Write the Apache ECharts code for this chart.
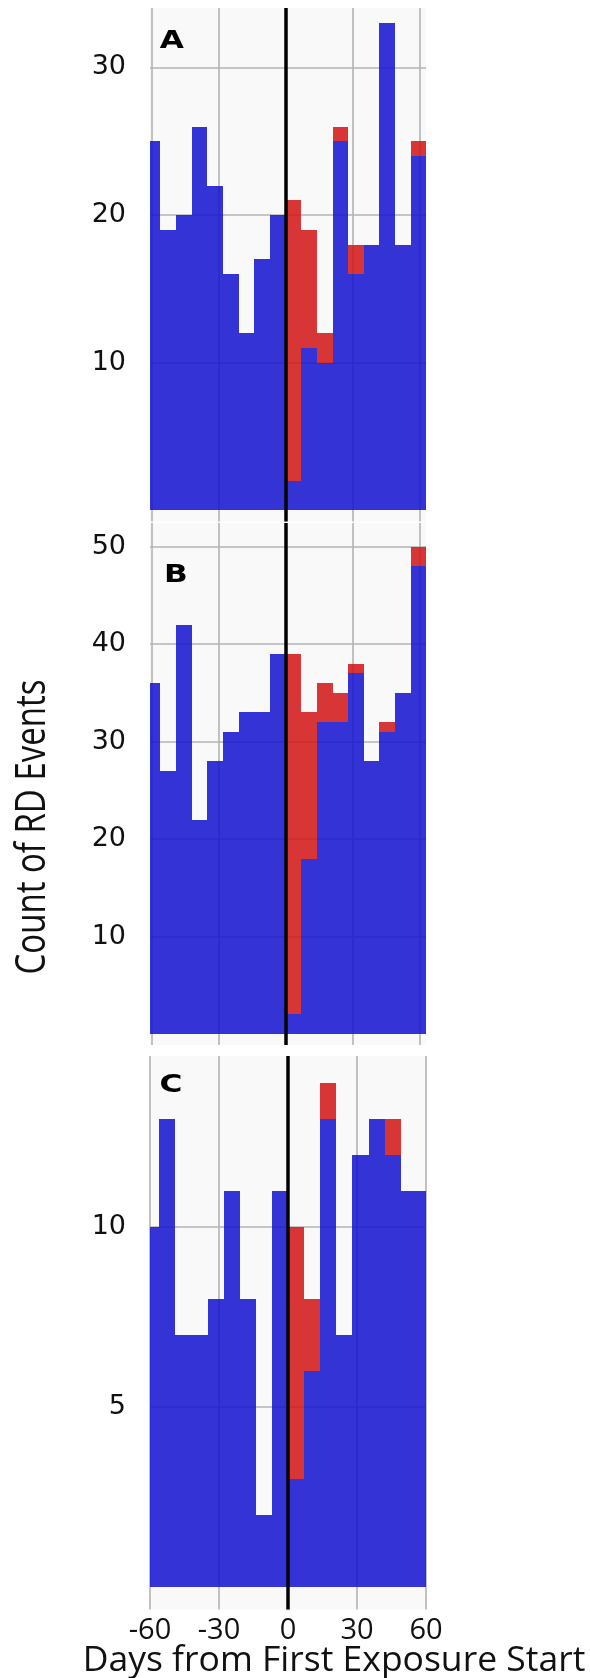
<!DOCTYPE html>
<html><head><meta charset="utf-8">
<script src="https://cdn.jsdelivr.net/npm/echarts@6/dist/echarts.min.js"></script>
<style>html,body{margin:0;padding:0;background:#fff}#c{width:590px;height:1678px}</style>
</head><body><div id="c"></div>
<script>
// ---- data ----
const binStarts = [-63, -56, -49, -42, -35, -28, -21, -14, -7, 0, 7, 14, 21, 28, 35, 42, 49, 56];
const binWidth = 7;
const blueA = [25, 19, 20, 26, 22, 16, 12, 17, 20, 2, 11, 10, 25, 16, 18, 33, 18, 24];
const redA  = [0, 0, 0, 0, 0, 0, 0, 0, 0, 19, 8, 2, 1, 2, 0, 0, 0, 1];
const blueB = [36, 27, 42, 22, 28, 31, 33, 33, 39, 2, 18, 32, 32, 37, 28, 31, 35, 48];
const redB  = [0, 0, 0, 0, 0, 0, 0, 0, 0, 37, 15, 4, 3, 1, 0, 1, 0, 2];
const blueC = [10, 13, 7, 7, 8, 11, 8, 2, 11, 3, 6, 13, 7, 12, 13, 12, 11, 11];
const redC  = [0, 0, 0, 0, 0, 0, 0, 0, 0, 7, 2, 1, 0, 0, 0, 1, 0, 0];
const yTicksA = [10, 20, 30];
const yTicksB = [10, 20, 30, 40, 50];
const yTicksC = [5, 10];
const xTicks = [-60, -30, 0, 30, 60];
const panelLetters = ['A', 'B', 'C'];
const xTitle = 'Days from First Exposure Start';
const yTitle = 'Count of RD Events';

// ---- layout / style ----
const grids = [
  {left: 150, top: 8, width: 276, height: 513.5},
  {left: 150, top: 523, width: 276, height: 522},
  {left: 150, top: 1056, width: 276, height: 553.5}
];
const xRanges = [[-60.6, 62.8], [-60.6, 62.8], [-60, 60]];
const yRanges = [[-0.76, 34.03], [-1.13, 52.43], [-0.62, 14.74]];
const letterPos = [[171.7, 41.5], [176, 576], [171, 1086]];
const BLUE = 'rgba(16,16,208,0.85)';
const RED = 'rgba(210,20,20,0.85)';
const GRIDC = '#b3b3b3';

const panels = [
  {blue: blueA, red: redA, yt: yTicksA},
  {blue: blueB, red: redB, yt: yTicksB},
  {blue: blueC, red: redC, yt: yTicksC}
];

function makeRender(color) {
  return function (params, api) {
    const x0 = api.value(0), x1 = api.value(1), lo = api.value(2), hi = api.value(3);
    const p0 = api.coord([x0, hi]);
    const p1 = api.coord([x1, lo]);
    const cs = params.coordSys;
    const L = Math.round(p0[0]), R = Math.round(p1[0]);
    const T = Math.round(p0[1]), B = Math.round(p1[1]);
    const shape = echarts.graphic.clipRectByRect(
      {x: L, y: T, width: R - L, height: B - T},
      {x: Math.round(cs.x), y: Math.round(cs.y), width: Math.round(cs.width), height: Math.round(cs.height)});
    if (!shape) return;
    return {type: 'rect', shape: shape, style: {fill: color}};
  };
}

const option = {animation: false, grid: [], xAxis: [], yAxis: [], series: [], graphic: []};

panels.forEach((p, k) => {
  const g = grids[k];
  option.grid.push(Object.assign({show: true, backgroundColor: '#f9f9f9', borderWidth: 0}, g));
  const isBottom = k === panels.length - 1;
  option.xAxis.push({
    type: 'value', gridIndex: k, min: xRanges[k][0], max: xRanges[k][1],
    axisLine: {show: false},
    axisTick: {show: false, customValues: xTicks},
    axisLabel: {show: isBottom, customValues: xTicks, fontFamily: 'Open Sans', fontSize: 29,
                color: '#111', margin: 7},
    splitLine: {show: true, lineStyle: {color: GRIDC, width: 1.6}}
  });
  option.yAxis.push({
    type: 'value', gridIndex: k, min: yRanges[k][0], max: yRanges[k][1],
    axisLine: {show: false},
    axisTick: {show: false, customValues: p.yt},
    axisLabel: {customValues: p.yt, fontFamily: 'DejaVu Sans', fontSize: 27, color: '#111', margin: 24},
    splitLine: {show: true, lineStyle: {color: GRIDC, width: 1.6}}
  });
  const blueData = binStarts.map((s, i) => [s, s + binWidth, 0, p.blue[i]]);
  const redData = binStarts.map((s, i) => [s, s + binWidth, p.blue[i], p.blue[i] + p.red[i]])
                           .filter((d, i) => p.red[i] > 0);
  option.series.push({
    type: 'custom', xAxisIndex: k, yAxisIndex: k, renderItem: makeRender(BLUE),
    encode: {x: [0, 1], y: [2, 3]}, data: blueData, z: 2, silent: true
  });
  option.series.push({
    type: 'custom', xAxisIndex: k, yAxisIndex: k, renderItem: makeRender(RED),
    encode: {x: [0, 1], y: [2, 3]}, data: redData, z: 2, silent: true
  });
  option.series.push({
    type: 'line', xAxisIndex: k, yAxisIndex: k, data: [], z: 5, silent: true,
    markLine: {silent: true, symbol: ['none', 'none'], label: {show: false},
      lineStyle: {color: '#000', width: 3.5, type: 'solid'}, data: [{xAxis: 0}]}
  });
  option.graphic.push({
    type: 'text', x: letterPos[k][0], y: letterPos[k][1], scaleX: 1.3, z: 10,
    style: {text: panelLetters[k], fontFamily: 'DejaVu Sans', fontWeight: 'bold', fontSize: 24,
            fill: '#000', align: 'center', verticalAlign: 'middle', textAlign: 'center', textVerticalAlign: 'middle'}
  });
});

option.graphic.push({
  type: 'text', x: 334, y: 1661,
  style: {text: xTitle, fontFamily: 'Open Sans', fontSize: 35.5, fill: '#111',
          align: 'center', verticalAlign: 'middle', textAlign: 'center', textVerticalAlign: 'middle'}
});
option.graphic.push({
  type: 'text', x: 33, y: 827, rotation: Math.PI / 2, scaleY: 1.27,
  style: {text: yTitle, fontFamily: 'Open Sans', fontSize: 33, fill: '#111',
          align: 'center', verticalAlign: 'middle', textAlign: 'center', textVerticalAlign: 'middle'}
});

const chart = echarts.init(document.getElementById('c'), null, {renderer: 'canvas'});
chart.setOption(option);
</script></body></html>
